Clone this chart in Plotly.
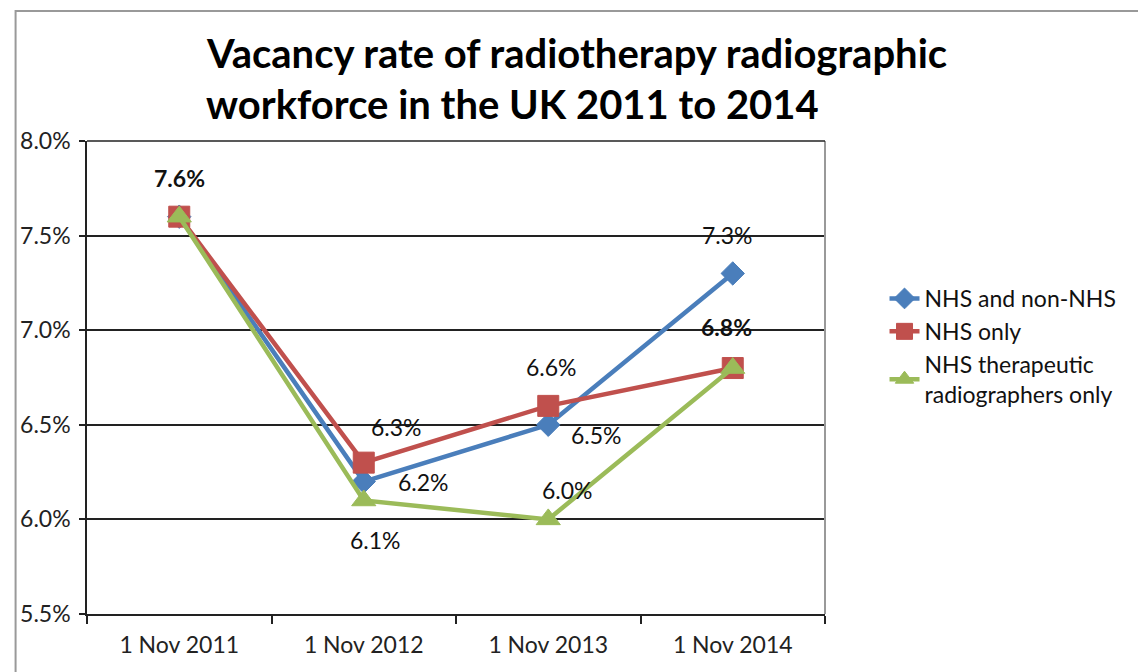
import plotly.graph_objects as go

categories = ["1 Nov 2011", "1 Nov 2012", "1 Nov 2013", "1 Nov 2014"]
nhs_and_non_nhs = [7.6, 6.2, 6.5, 7.3]
nhs_only = [7.6, 6.3, 6.6, 6.8]
nhs_therapeutic = [7.6, 6.1, 6.0, 6.8]
y_ticks = [5.5, 6.0, 6.5, 7.0, 7.5, 8.0]

FONT = "Lato, Carlito, Calibri, sans-serif"
W, H = 1146, 672
OFF = 8  # page body margin offset
# plot area in screen pixels
SL, SR, ST, SB = 81, 825, 141, 614
L, T = SL - OFF, ST - OFF
R = W - (SR - OFF)
B = H - (SB - OFF)
PW, PH = SR - SL, SB - ST

def px(xs):
    return (xs - SL) / PW

def py(ys):
    return (SB - ys) / PH

fig = go.Figure()
series = [
    ("NHS and non-NHS", nhs_and_non_nhs, "#4A7EBB", "diamond", 18),
    ("NHS only", nhs_only, "#C0504D", "square", 21),
    ("NHS therapeutic<br>radiographers only", nhs_therapeutic, "#9BBB59", "triangle-up", 21),
]
for name, vals, col, sym, size in series:
    fig.add_trace(go.Scatter(
        x=categories, y=vals, name=name, mode="lines+markers",
        line=dict(color=col, width=4.5),
        marker=dict(symbol=sym, size=size, color=col, line=dict(width=1, color=col)),
    ))

# data labels: (series values, index, dx, dy, bold)
label_specs = [
    (nhs_only, 0, 0, -39, True),
    (nhs_only, 1, 33, -36, False),
    (nhs_and_non_nhs, 1, 60, 0, False),
    (nhs_therapeutic, 1, 12, 40, False),
    (nhs_only, 2, 3, -39, False),
    (nhs_and_non_nhs, 2, 48, 10, False),
    (nhs_therapeutic, 2, 19, -29, False),
    (nhs_and_non_nhs, 3, -5, -38, False),
    (nhs_only, 3, -6, -41, True),
]
for vals, i, dx, dy, bold in label_specs:
    txt = f"{vals[i]:.1f}%"
    if bold:
        txt = f"<b>{txt}</b>"
    fig.add_annotation(x=categories[i], y=vals[i], text=txt, showarrow=False,
                       xshift=dx, yshift=-dy, font=dict(size=23, color="#111", family=FONT))

# title lines
fig.add_annotation(xref="paper", yref="paper", x=px(199), y=py(53), xanchor="left", yanchor="middle",
                   text="<b>Vacancy rate of radiotherapy radiographic</b>", showarrow=False,
                   font=dict(size=40, color="#000", family=FONT))
fig.add_annotation(xref="paper", yref="paper", x=px(199), y=py(104), xanchor="left", yanchor="middle",
                   text="<b>workforce in the UK 2011 to 2014</b>", showarrow=False,
                   font=dict(size=40, color="#000", family=FONT))

# right plot edge, top line and outer chart border
fig.add_shape(type="line", xref="paper", yref="paper", x0=1, x1=1, y0=0, y1=1,
              line=dict(color="#999", width=2))
fig.add_shape(type="line", xref="paper", yref="paper", x0=0, x1=1, y0=1, y1=1,
              line=dict(color="#222", width=1.5))
fig.add_shape(type="rect", xref="paper", yref="paper", x0=px(9), x1=px(1170), y0=py(11), y1=py(700),
              line=dict(color="#999", width=2), layer="below")

fig.update_layout(
    width=W, height=H,
    margin=dict(l=L, r=R, t=T, b=B),
    paper_bgcolor="white", plot_bgcolor="white",
    font=dict(family=FONT, size=23, color="#222"),
    showlegend=True,
    legend=dict(x=px(885), y=py(277), xanchor="left", yanchor="top",
                font=dict(size=23, color="#111", family=FONT),
                tracegroupgap=0, itemwidth=30, bgcolor="rgba(0,0,0,0)"),
    xaxis=dict(type="category", range=[-0.5, 3.5], showline=True, linecolor="#222", linewidth=1.5,
               ticks="outside", ticklen=8, tickcolor="#222", tickwidth=1.5, tickson="boundaries",
               ticklabelstandoff=10,
               showgrid=False, tickfont=dict(size=23, color="#222"), zeroline=False),
    yaxis=dict(range=[5.5, 8.0], tickvals=y_ticks, ticktext=[f"{v:.1f}%" for v in y_ticks],
               showline=True, linecolor="#222", linewidth=1.5, ticks="outside", ticklen=6,
               tickcolor="#222", tickwidth=1.5, showgrid=True, gridcolor="#222", gridwidth=1.5,
               ticklabelstandoff=4,
               tickfont=dict(size=23, color="#222"), zeroline=False),
)

fig.write_html("out.html")
